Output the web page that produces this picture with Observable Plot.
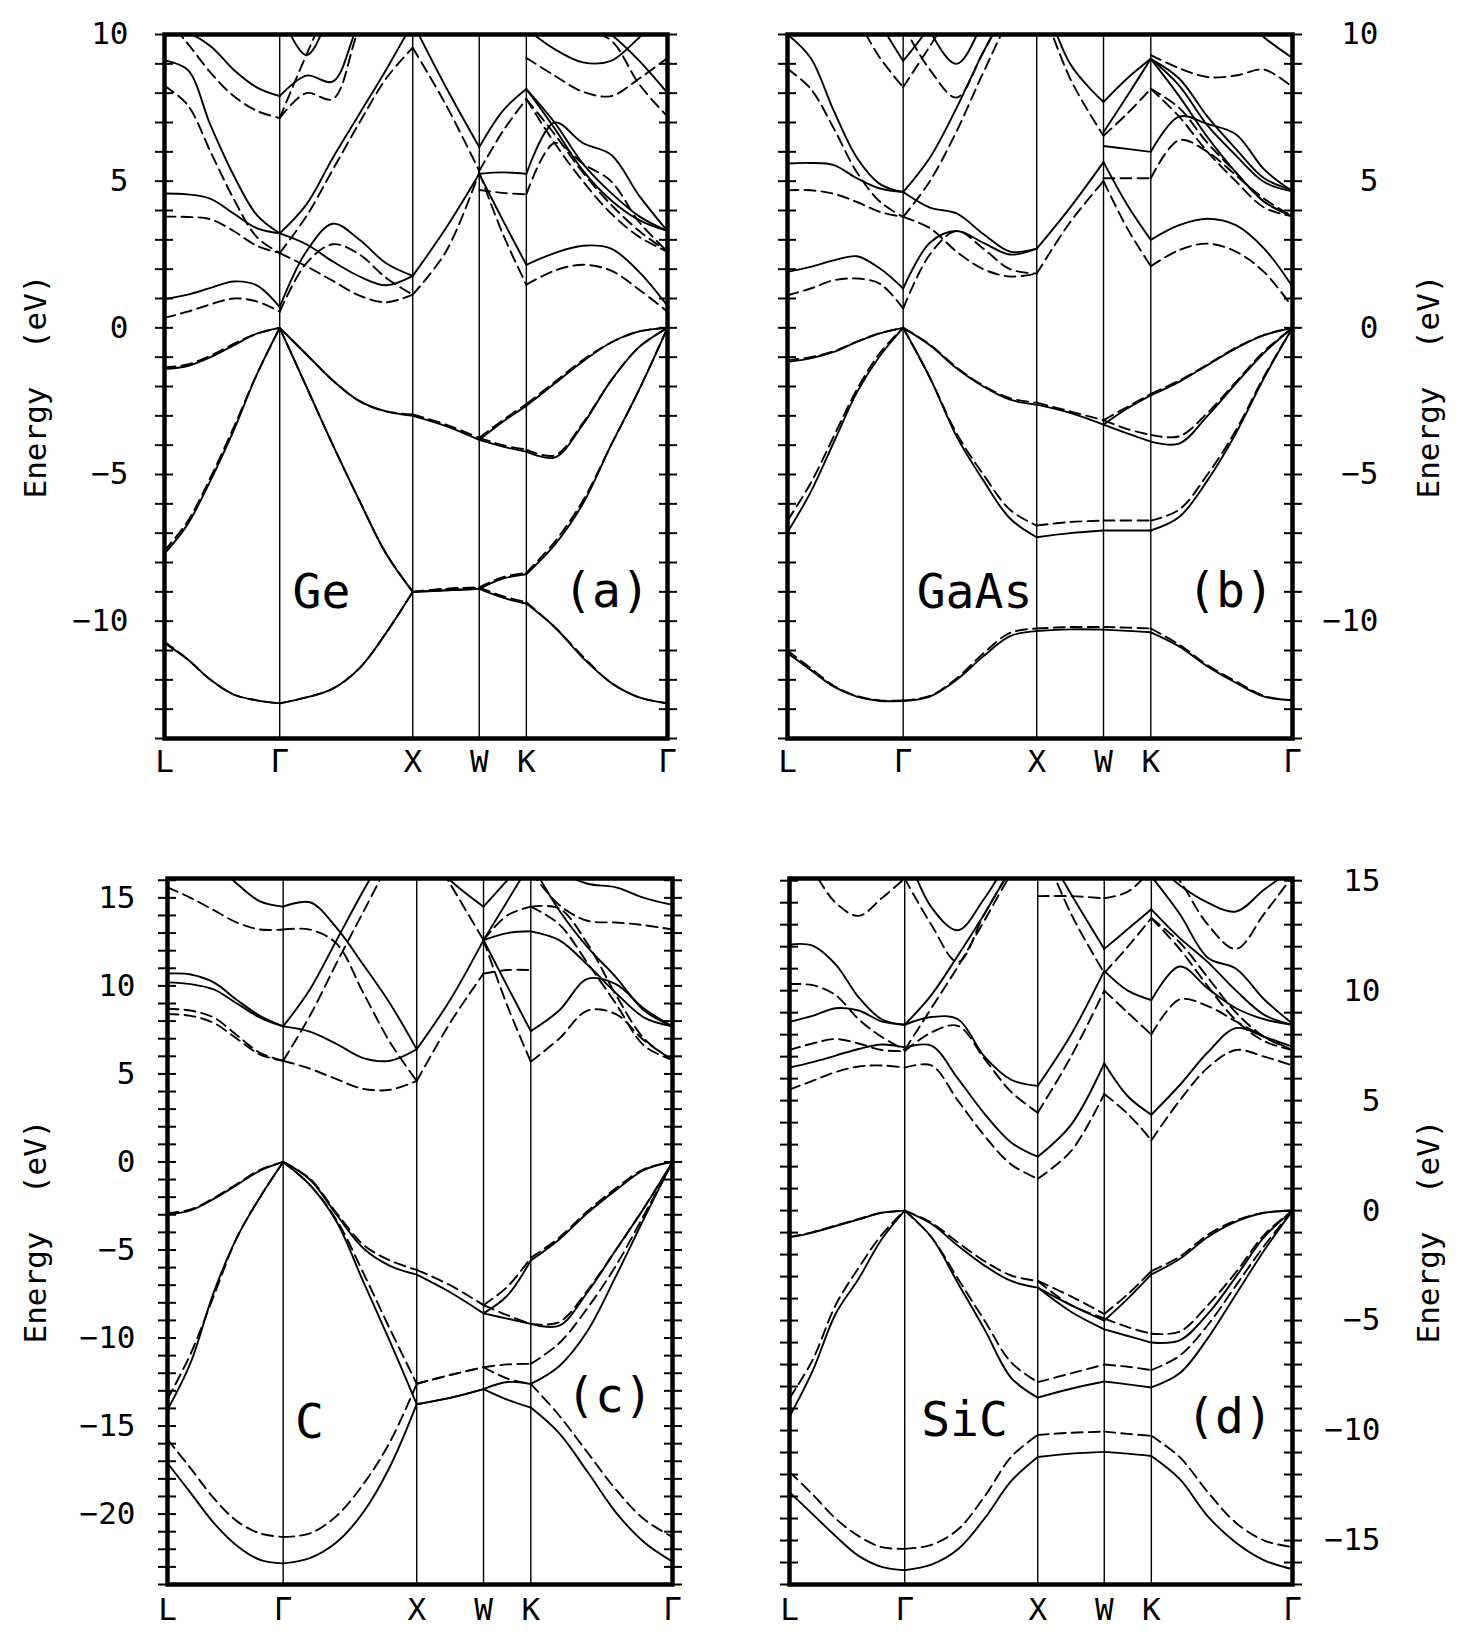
<!DOCTYPE html>
<html><head><meta charset="utf-8">
<script src="https://cdn.jsdelivr.net/npm/d3@7"></script>
<script src="https://cdn.jsdelivr.net/npm/@observablehq/plot@0.6"></script>
<style>
html,body{margin:0;padding:0;background:#fff;}
#root{position:relative;width:1469px;height:1634px;overflow:hidden;background:#fff;}
#root svg{position:absolute;}
</style></head><body><div id="root"></div>
<script>
const _ = null;
const kNames = ["L", "Γ", "X", "W", "K", "Γ"];
const kPos = [0, 0.866, 1.866, 2.366, 2.720, 3.781];
const ticksAB = [-10, -5, 0, 5, 10];
const ticksC = [-20, -15, -10, -5, 0, 5, 10, 15];
const ticksD = [-15, -10, -5, 0, 5, 10, 15];
const materials = ["Ge", "GaAs", "C", "SiC"];
const tags = ["(a)", "(b)", "(c)", "(d)"];

// Energies (eV) sampled along L-Γ-X-W-K-Γ:
// [L, 4 pts, Γ, 4 pts, X, mid, W, mid, K, 4 pts, Γ]
const geSolid = [
 [-10.75,-11.3,-12.0,-12.5,-12.7,-12.8, -12.6,-12.3,-11.6,-10.4,-9.0, -8.95,-8.9, -9.2,-9.4, -10.2,-11.25,-12.1,-12.6,-12.8],
 [-7.7,-6.7,-5.2,-3.5,-1.6,0, -2.0,-4.0,-5.9,-7.7,-9.0, -8.95,-8.9, -8.55,-8.4, -7.4,-6.0,-4.0,-2.1,0],
 [-1.4,-1.3,-1.0,-0.6,-0.2,0, -0.9,-1.8,-2.5,-2.85,-3.0, -3.35,-3.82, -3.2,-2.66, -1.9,-1.15,-0.5,-0.12,0],
 [_,_,_,_,_,_, _,_,_,_,_, _,-3.82, -4.05,-4.22, -4.42,-3.3,-1.8,-0.65,0],
 [0.98,1.13,1.36,1.58,1.45,0.71, 2.6,3.55,3.0,2.2,1.77, 3.4,5.25, 3.67,2.15, 2.55,2.8,2.7,1.9,0.75],
 [4.58,4.55,4.4,3.9,3.4,3.22, 2.85,2.26,1.75,1.45,1.77, _,5.25, 5.3,5.25, 7.0,6.3,5.9,4.5,3.3],
 [9.12,8.8,6.9,5.2,3.85,3.22, 4.2,5.8,7.3,8.8,10.4, 8.2,6.16, 7.4,8.14, 6.8,5.37,4.35,3.67,3.3],
 [10.1,10.05,9.6,8.8,8.2,7.9, 8.6,8.4,10.4,11.5,12, _,_, _,12, 11,10.6,10.0,9.1,8.0],
 [_,_,_,_,_,10.8, 9.3,10.9,12.5,13.5,14.5, _,_, _,10.2, 9.5,9.05,9.1,9.9,10.8],
 [_,_,_,_,_,_, _,_,_,_,_, _,_, _,8.14, 7.0,5.6,4.6,3.8,3.3]
];
const geDashed = [
 [-10.7,-11.3,-12.0,-12.5,-12.7,-12.8, -12.6,-12.3,-11.6,-10.4,-9.0, -8.9,-8.85, -9.15,-9.35, -10.2,-11.2,-12.1,-12.6,-12.8],
 [-7.6,-6.6,-5.1,-3.4,-1.6,0, -2.0,-4.0,-5.9,-7.7,-9.0, -8.9,-8.85, -8.5,-8.35, -7.3,-5.9,-4.0,-2.1,0],
 [-1.35,-1.25,-0.95,-0.55,-0.2,0, -0.9,-1.8,-2.5,-2.85,-2.95, -3.3,-3.75, -3.15,-2.6, -1.85,-1.1,-0.5,-0.12,0],
 [_,_,_,_,_,_, _,_,_,_,_, _,-3.75, -4.0,-4.15, -4.35,-3.25,-1.8,-0.65,0],
 [0.34,0.55,0.8,1.0,0.9,0.55, 2.2,2.85,2.5,1.7,1.13, 2.6,5.3, 3.2,1.47, 1.95,2.15,1.95,1.3,0.55],
 [3.79,3.78,3.7,3.3,2.8,2.55, 2.1,1.6,1.1,0.87,1.13, _,4.7, 4.6,4.55, 6.3,5.6,5.0,3.6,2.6],
 [8.25,7.6,6.0,4.4,3.1,2.55, 3.8,5.4,7.0,8.5,9.55, 7.6,5.35, 6.7,7.8, 6.3,5.0,3.9,3.1,2.6],
 [10.6,9.7,8.7,7.9,7.4,7.15, 8.0,7.8,10.2,11.5,12.5, _,_, _,11.5, 10.8,10.2,9.8,8.3,7.2],
 [_,_,_,_,_,7.15, 9.3,11.3,13,14,15, _,_, _,9.2, 8.6,8.05,7.9,8.5,9.2],
 [_,_,_,_,_,_, _,_,_,_,_, _,_, _,7.8, 6.6,5.3,4.2,3.3,2.6]
];
const gaasSolid = [
 [-11.09,-11.66,-12.23,-12.57,-12.72,-12.72, -12.57,-12.0,-11.2,-10.51,-10.34, -10.28,-10.29, -10.33,-10.38, -10.86,-11.54,-12.1,-12.57,-12.69],
 [-6.97,-5.6,-3.9,-2.2,-0.95,0, -1.7,-3.7,-5.2,-6.5,-7.14, -7.0,-6.91, -6.91,-6.91, -6.45,-5.2,-3.6,-1.7,0],
 [-1.16,-1.04,-0.82,-0.48,-0.19,0, -0.59,-1.38,-2.0,-2.45,-2.62, -2.9,-3.3, -2.75,-2.3, -1.84,-1.27,-0.7,-0.25,0],
 [_,_,_,_,_,_, _,_,_,_,_, _,-3.3, -3.6,-3.88, -3.95,-3.0,-1.9,-0.85,0],
 [1.91,2.08,2.3,2.44,2.02,1.34, 2.9,3.3,2.9,2.5,2.7, 4.1,5.65, 4.2,3.0, 3.5,3.72,3.5,2.7,1.4],
 [5.6,5.62,5.55,5.1,4.75,4.63, 4.1,3.9,3.2,2.6,2.7, _,6.2, 6.1,6.0, 7.2,6.95,6.6,5.4,4.65],
 [10.0,9.2,7.4,5.8,4.9,4.63, 5.8,7.5,9.4,11,12, 9.0,7.7, 8.5,9.17, 8.26,6.9,5.88,4.97,4.65],
 [_,_,_,_,_,_, _,_,_,_,_, _,6.67, 7.9,9.17, 8.5,7.2,6.1,5.1,4.7],
 [_,_,_,_,_,_, _,_,_,_,_, _,_, _,9.17, 7.9,6.5,5.3,4.3,3.8],
 [16,15,13.5,12,10.4,9.1, 10.3,12,13,14,15, _,_, _,12, 11.5,11,10.8,9.9,9.2],
 [_,_,_,_,_,12, 10.1,9.0,10.4,12,13, _,_, _,_, _,_,_,_,_]
];
const gaasDashed = [
 [-11.0,-11.6,-12.2,-12.55,-12.7,-12.7, -12.55,-11.95,-11.1,-10.4,-10.25, -10.2,-10.2, -10.22,-10.25, -10.8,-11.5,-12.05,-12.55,-12.7],
 [-6.57,-5.3,-3.7,-2.1,-0.85,0, -1.7,-3.6,-5.0,-6.2,-6.74, -6.62,-6.57, -6.57,-6.57, -6.2,-5.0,-3.5,-1.65,0],
 [-1.1,-1.0,-0.8,-0.47,-0.18,0, -0.57,-1.35,-1.97,-2.4,-2.55, -2.85,-3.15, -2.7,-2.25, -1.8,-1.25,-0.68,-0.24,0],
 [_,_,_,_,_,_, _,_,_,_,_, _,-3.15, -3.45,-3.65, -3.7,-2.9,-1.85,-0.8,0],
 [1.11,1.34,1.62,1.68,1.5,0.66, 2.5,3.3,2.7,2.0,1.85, 3.6,5.0, 3.4,2.1, 2.65,2.87,2.6,1.9,0.7],
 [4.69,4.69,4.57,4.29,3.95,3.78, 3.4,2.6,2.0,1.75,1.85, _,5.1, 5.1,5.1, 6.4,6.0,5.2,4.4,3.8],
 [8.83,8.15,6.8,5.3,4.3,3.78, 5.0,6.7,8.7,10.5,11.5, 8.5,6.55, 7.3,8.15, 7.2,6.0,5.0,4.1,3.8],
 [_,_,_,_,_,_, _,_,_,_,_, _,_, _,8.15, 7.5,6.3,5.3,4.3,3.8],
 [13,12,11.5,10.5,9.2,8.2, 9.6,11,12,13,14, _,_, _,9.3, 8.85,8.55,8.6,8.8,8.2],
 [_,_,_,_,_,10.3, 8.8,7.85,9.4,11,12, _,_, _,_, _,_,_,_,_]
];
const cSolid = [
 [-17.1,-18.8,-20.5,-21.8,-22.6,-22.8, -22.5,-21.6,-19.9,-17.3,-13.76, -13.4,-12.9, -13.5,-13.95, -15.4,-17.6,-19.9,-21.6,-22.7],
 [-14.08,-11.4,-7.4,-4.3,-2.0,0, -1.3,-3.4,-6.8,-10.2,-13.76, -13.4,-12.9, -12.5,-12.61, -11.6,-9.6,-6.5,-3.2,0],
 [-2.97,-2.75,-2.1,-1.3,-0.5,0, -1.0,-3.0,-4.9,-5.9,-6.4, -7.4,-8.6, -7.6,-5.6, -4.4,-2.9,-1.6,-0.45,0],
 [_,_,_,_,_,_, _,_,_,_,_, _,-8.6, -8.9,-9.2, -9.3,-7.4,-5.0,-2.6,0],
 [10.7,10.65,10.2,9.2,8.3,7.7, 7.4,6.7,5.9,5.75,6.4, 9.2,12.6, 10.0,7.43, 8.6,10.4,10.1,8.7,7.7],
 [10.2,10.1,9.8,9.0,8.2,7.7, 9.8,12.6,15.4,18,20, _,12.6, 13.0,13.1, 12.6,11.2,9.6,8.2,7.7],
 [18,17.5,17,15.8,14.8,14.5, 14.75,13.3,11.2,9.0,6.4, _,12.6, 14.8,17, 14.3,12.2,10.5,8.6,7.7],
 [_,_,_,_,_,_, _,_,_,_,18, 16,14.5, 16,17.5, 16.5,15.8,15.6,15.0,14.6]
];
const cDashed = [
 [-15.76,-17.4,-19.1,-20.4,-21.1,-21.3, -21.1,-20.1,-18.3,-15.9,-12.6, -12.1,-11.66, -12.3,-12.6, -14.4,-16.5,-18.6,-20.3,-21.3],
 [-13.47,-10.9,-7.6,-4.3,-2.0,0, -1.3,-3.3,-6.3,-9.5,-12.6, -12.1,-11.66, -11.5,-11.47, -10.3,-8.3,-5.9,-3.0,0],
 [-2.9,-2.7,-2.05,-1.25,-0.45,0, -0.95,-2.9,-4.7,-5.6,-6.13, -7.0,-8.13, -7.1,-5.45, -4.3,-2.8,-1.5,-0.4,0],
 [_,_,_,_,_,_, _,_,_,_,_, _,-8.13, -8.7,-9.2, -9.1,-7.3,-5.0,-2.6,0],
 [8.7,8.6,8.2,7.2,6.2,5.75, 5.3,4.7,4.15,4.1,4.6, 7.9,10.7, 10.9,10.9, _,_,_,_,_],
 [8.4,8.3,7.9,7.0,6.1,5.75, 8.3,11.3,14.2,17,19, 15.8,12.6, 8.9,5.7, 7.0,8.6,8.4,6.9,5.8],
 [15.6,15.0,14.3,13.6,13.2,13.2, 13.2,12.4,9.6,6.8,4.6, _,12.6, 14.0,14.5, 14.4,12.4,9.5,7.0,5.8],
 [_,_,_,_,_,_, _,_,_,_,_, _,_, _,16.5, 14.6,13.7,13.6,13.45,13.2],
 [_,_,_,_,_,_, _,_,_,_,_, _,_, _,14.5, 13.5,11.3,9.0,6.6,5.8]
];
const sicSolid = [
 [-12.8,-13.8,-14.8,-15.7,-16.2,-16.35, -16.1,-15.4,-14.0,-12.3,-11.2, -11.05,-10.97, -11.05,-11.16, -12.2,-13.9,-15.1,-15.9,-16.3],
 [-9.37,-7.3,-4.7,-3.1,-1.3,0, -1.2,-3.3,-5.4,-7.6,-8.5, -8.1,-7.77, -7.9,-8.04, -7.4,-5.8,-3.8,-1.8,0],
 [-1.22,-1.0,-0.7,-0.4,-0.1,0, -0.6,-1.6,-2.5,-3.2,-3.5, -4.3,-5.0, -4.0,-2.9, -2.2,-1.2,-0.5,-0.1,0],
 [_,_,_,_,_,_, _,_,_,_,-3.5, -4.6,-5.4, -5.7,-6.0, -5.9,-4.7,-3.0,-1.2,0],
 [8.58,8.85,9.2,9.1,8.6,8.45, 8.8,8.7,7.0,5.95,5.67, 8.0,10.9, 10.0,9.57, 11.1,10.1,9.2,8.7,8.45],
 [12.1,12.05,11.2,9.7,8.7,8.45, 9.8,11.6,13.5,15.5,17, 14.4,11.9, 12.8,13.7, 12.4,11.3,10.0,8.9,8.45],
 [6.5,6.75,7.05,7.35,7.55,7.42, 7.5,6.0,4.4,3.1,2.45, 3.9,6.7, 5.2,4.36, 5.7,7.2,8.3,7.9,7.45],
 [_,_,_,_,_,16.5, 13.8,12.75,14.2,16,17, _,_, _,16, 14.8,14.0,13.6,14.6,15.5],
 [_,_,_,_,_,_, _,_,_,_,_, _,_, _,15.2, 13.5,11.5,11.0,9.6,8.5]
];
const sicDashed = [
 [-11.88,-12.9,-14.0,-14.8,-15.3,-15.38, -15.2,-14.5,-13.0,-11.2,-10.2, -10.1,-10.05, -10.15,-10.24, -11.2,-12.8,-14.2,-15.0,-15.3],
 [-8.53,-6.8,-4.3,-2.6,-1.1,0, -1.2,-3.1,-5.0,-6.9,-7.8, -7.4,-7.0, -7.1,-7.25, -6.6,-5.2,-3.4,-1.6,0],
 [-1.2,-0.98,-0.68,-0.38,-0.1,0, -0.55,-1.45,-2.3,-2.95,-3.2, -3.9,-4.7, -3.8,-2.75, -2.1,-1.1,-0.45,-0.1,0],
 [_,_,_,_,_,_, _,_,_,_,-3.2, -4.3,-4.9, -5.3,-5.6, -5.5,-4.3,-2.8,-1.1,0],
 [10.3,10.25,9.8,8.7,7.9,7.3, 9.2,11.1,13.2,15.3,17, 13.5,10.8, 12.0,13.3, 11.9,10.2,8.65,7.7,7.3],
 [7.3,7.6,7.8,7.6,7.3,7.25, 8.1,8.4,6.9,5.4,4.45, 7.0,10.0, 9.0,8.0, 9.6,9.3,8.6,7.9,7.3],
 [5.5,5.9,6.3,6.55,6.6,6.5, 6.6,5.0,3.4,2.1,1.45, 2.7,5.3, 4.4,3.2, 5.0,6.5,7.3,7.0,6.6],
 [17,15.5,14.0,13.4,14.2,15.1, 13.0,11.3,13.5,15.5,17, _,_, _,16.5, 15.0,13.0,11.9,13.5,15.2],
 [_,_,_,_,_,_, _,_,_,_,14.3, 14.3,14.2, 14.5,15.5, _,_,_,_,_],
 [_,_,_,_,_,_, _,_,_,_,_, _,_, _,13.3, 12.2,10.6,9.0,7.9,7.3]
];

// ---------- path geometry ----------
const fr = [0.2, 0.4, 0.6, 0.8];
const gridK = [kPos[0]];
fr.forEach(f => gridK.push(kPos[0] + f * (kPos[1] - kPos[0]))); gridK.push(kPos[1]);
fr.forEach(f => gridK.push(kPos[1] + f * (kPos[2] - kPos[1]))); gridK.push(kPos[2]);
gridK.push((kPos[2] + kPos[3]) / 2); gridK.push(kPos[3]);
gridK.push((kPos[3] + kPos[4]) / 2); gridK.push(kPos[4]);
fr.forEach(f => gridK.push(kPos[4] + f * (kPos[5] - kPos[4]))); gridK.push(kPos[5]);
const segs = [[0, 5], [5, 10], [10, 12], [12, 14], [14, 19]];

function bandRows(bands, tag) {
  const rows = [];
  bands.forEach((b, bi) => {
    segs.forEach(([a, z], si) => {
      const vals = b.slice(a, z + 1);
      if (vals.some(v => v == null)) return;
      vals.forEach((e, j) => rows.push({k: gridK[a + j], e, id: `${tag}-${bi}-${si}`}));
    });
  });
  return rows;
}
const kNameOf = new Map(kPos.map((p, i) => [p, kNames[i]]));

const FONT = '"DejaVu Sans Mono", "Liberation Mono", monospace';
const layout = [
  {solid: geSolid, dashed: geDashed, domain: [-14, 10], labels: ticksAB, side: "left",
   left: 0, top: 0, width: 730, height: 810, mL: 164, mR: 63, mT: 34, mB: 72,
   pad: 36, xPad: 11, eDx: -128, nDx: 157, nDy: -146, tDx: -61, tDy: -147},
  {solid: gaasSolid, dashed: gaasDashed, domain: [-14, 10], labels: ticksAB, side: "right",
   left: 734, top: 0, width: 735, height: 810, mL: 53, mR: 177, mT: 34, mB: 72,
   pad: 86, xPad: 11, eDx: 137, nDx: 187, nDy: -146, tDx: -62, tDy: -147},
  {solid: cSolid, dashed: cDashed, domain: [-24, 16.1], labels: ticksC, side: "left",
   left: 0, top: 840, width: 730, height: 794, mL: 167, mR: 58, mT: 38, mB: 50,
   pad: 32, xPad: 13, eDx: -131, nDx: 142, nDy: -162, tDx: -63, tDy: -188},
  {solid: sicSolid, dashed: sicDashed, domain: [-17, 15.1], labels: ticksD, side: "right",
   left: 734, top: 840, width: 735, height: 794, mL: 55, mR: 177, mT: 38, mB: 50,
   pad: 88, xPad: 13, eDx: 137, nDx: 175, nDy: -164, tDx: -63, tDy: -167}
];

const root = document.getElementById("root");
layout.forEach((p, i) => {
  const minor = d3.range(Math.ceil(p.domain[0]), Math.floor(p.domain[1]) + 1);
  const svg = Plot.plot({
    width: p.width, height: p.height,
    marginLeft: p.mL, marginRight: p.mR, marginTop: p.mT, marginBottom: p.mB,
    x: {domain: [0, kPos[5]]},
    y: {domain: p.domain},
    style: {background: "transparent", fontFamily: FONT, fontSize: "31px", color: "black", overflow: "visible"},
    marks: [
      Plot.ruleX(kPos.slice(1, 5), {stroke: "black", strokeWidth: 1.4}),
      Plot.line(bandRows(p.solid, "s"), {x: "k", y: "e", z: "id", curve: "catmull-rom",
        stroke: "black", strokeWidth: 1.9, clip: true}),
      Plot.line(bandRows(p.dashed, "d"), {x: "k", y: "e", z: "id", curve: "catmull-rom",
        stroke: "black", strokeWidth: 1.9, strokeDasharray: "11,6", clip: true}),
      Plot.frame({stroke: "black", strokeWidth: 4.5}),
      Plot.axisY({anchor: "left", ticks: minor, tickSize: 18, dx: 9, tickFormat: () => "", strokeWidth: 2, label: null}),
      Plot.axisY({anchor: "right", ticks: minor, tickSize: 18, dx: -9, tickFormat: () => "", strokeWidth: 2, label: null}),
      Plot.axisY({anchor: p.side, ticks: p.labels, tickSize: 0, tickPadding: p.pad,
        textAnchor: "end", label: null}),
      Plot.axisX({anchor: "bottom", ticks: kPos, tickSize: 0, tickPadding: p.xPad,
        tickFormat: d => kNameOf.get(d), label: null}),
      Plot.text(["Energy\u00a0\u00a0(eV)"], {frameAnchor: p.side, text: d => d, rotate: -90,
        dx: p.eDx, textAnchor: "middle", lineAnchor: "middle", fontSize: 31}),
      Plot.text([materials[i]], {frameAnchor: "bottom-left", text: d => d, dx: p.nDx, dy: p.nDy,
        textAnchor: "middle", lineAnchor: "middle", fontSize: 48}),
      Plot.text([tags[i]], {frameAnchor: "bottom-right", text: d => d, dx: p.tDx, dy: p.tDy,
        textAnchor: "middle", lineAnchor: "middle", fontSize: 48})
    ]
  });
  svg.style.left = p.left + "px";
  svg.style.top = p.top + "px";
  root.appendChild(svg);
});
</script>
</body></html>
